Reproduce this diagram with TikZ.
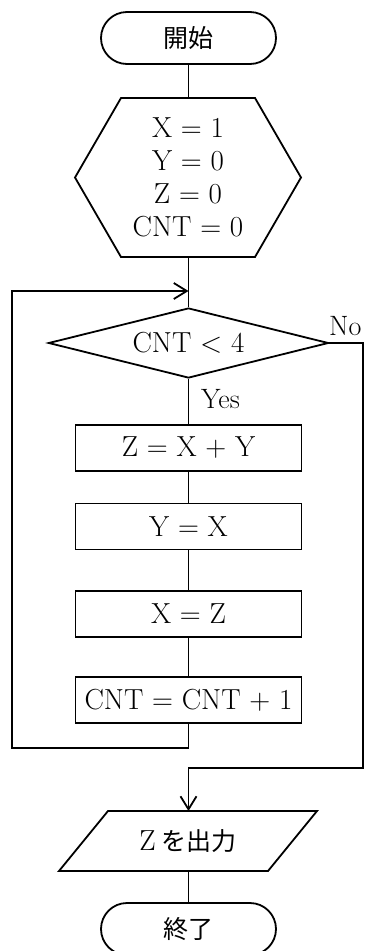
\documentclass[tikz,border=0pt]{standalone}
\usepackage{fontspec}
\newfontfamily\jpfont{Noto Sans CJK JP}
\newcommand\jptext[1]{{\jpfont\fontsize{25}{30}\selectfont #1}}
\usetikzlibrary{shapes.geometric,arrows.meta,calc}
\begin{document}
\begin{tikzpicture}[x=1pt,y=-1pt,font=\fontsize{29}{33}\selectfont]
\tikzset{
  flow/.style={draw=black, line width=1.8pt},
  term/.style={flow, rectangle, rounded corners=26pt, minimum width=175pt, minimum height=52pt, inner sep=0pt},
  proc/.style={flow, rectangle, minimum width=226pt, minimum height=46pt, inner sep=0pt},
  dec/.style={flow, diamond, aspect=4, minimum width=280pt, minimum height=70pt, inner sep=0pt},
  plainnode/.style={inner sep=0pt, outer sep=0pt},
  conn/.style={draw=black, line width=1.8pt},
  arr/.style={conn, -{Straight Barb[length=13pt,width=16pt,line width=1.8pt]}},
  lab/.style={inner sep=0pt, anchor=base west, font=\fontsize{28}{32}\selectfont},
}
\useasboundingbox (0,0) rectangle (365,951);

% nodes
\node[term] (start) at (188.5,38) {\jptext{開始}};
\node[plainnode, minimum width=226pt, minimum height=159pt, align=center] (init) at (188,177.5)
  {X = 1\\ Y = 0\\ Z = 0\\ CNT = 0};
\draw[flow, line join=miter] (init.west) -- ($(init.north west)+(46,0)$) -- ($(init.north east)+(-46,0)$)
  -- (init.east) -- ($(init.south east)+(-46,0)$) -- ($(init.south west)+(46,0)$) -- cycle;

\node[dec] (cond) at (188.5,343) {CNT < 4};
\node[proc] (b1) at (188.5,448) {Z = X + Y};
\node[proc] (b2) at (188.5,526.5) {Y = X};
\node[proc] (b3) at (188.5,614) {X = Z};
\node[proc] (b4) at (188.5,700) {CNT = CNT + 1};

\node[plainnode, minimum width=258pt, minimum height=60pt] (outp) at (188,841)
  {Z\hspace{6pt}\jptext{を出力}};
\draw[flow, line join=miter] (outp.south west) -- ($(outp.north west)+(49,0)$) -- (outp.north east)
  -- ($(outp.south east)+(-49,0)$) -- cycle;

\node[term] (stop) at (188.5,929) {\jptext{終了}};

\node[lab] (no) at (329,335) {No};
\node[lab] (yes) at (201,408) {Yes};

% helper coordinates
\coordinate (loopin) at (188.5,291);
\coordinate (loopbl) at (12,748);
\coordinate (looptl) at (12,291);
\coordinate (nobr) at (363,768);
\coordinate (nobm) at (188.5,768);

% connectors
\draw[conn] (start.south) -- (init.north -| start.south);
\draw[conn] (init.south -| cond.north) -- (cond.north);
\draw[conn] (cond.south) -- (b1.north);
\draw[conn] (b1.south) -- (b2.north);
\draw[conn] (b2.south) -- (b3.north);
\draw[conn] (b3.south) -- (b4.north);
\draw[arr] (b4.south) |- (loopbl) -- (looptl) -- (loopin);
\draw[arr] (cond.east) -| (nobr) -- (nobm) -- (outp.north -| nobm);
\draw[conn] (outp.south -| stop.north) -- (stop.north);
\end{tikzpicture}
\end{document}
